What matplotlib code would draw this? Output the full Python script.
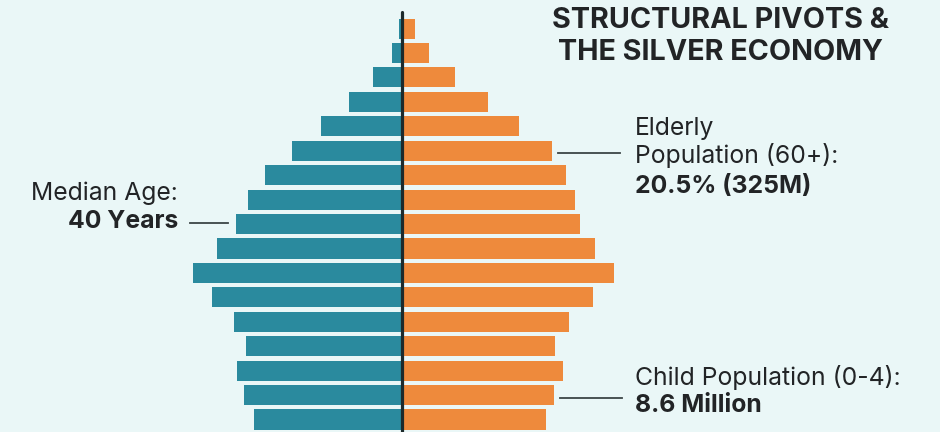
import matplotlib
matplotlib.use("Agg")
import matplotlib.pyplot as plt
import numpy as np

# ---- data (bottom = youngest) ----
age_groups = ["0-4", "5-9", "10-14", "15-19", "20-24", "25-29", "30-34", "35-39",
              "40-44", "45-49", "50-54", "55-59", "60-64", "65-69", "70-74", "75-79", "80+"]
male = [74, 79, 82.5, 78, 84, 95, 104.5, 92.5, 83, 77, 68.5, 55, 40.5, 26.5, 14.5, 5, 1.5]
female = [72, 76, 80.5, 76.5, 83.5, 95.5, 106, 96.5, 89, 86.5, 82, 75, 58.5, 43, 26.5, 13.5, 6.5]

title_lines = ["STRUCTURAL PIVOTS &", "THE SILVER ECONOMY"]
median_label = ["Median Age:", "40 Years"]
elderly_label = ["Elderly", "Population (60+):", "20.5% (325M)"]
child_label = ["Child Population (0-4):", "8.6 Million"]

# ---- style ----
W, H = 940, 432
bg = "#eaf7f7"
teal = "#2a8a9e"
orange = "#ee8a3c"
dark = "#222426"
line_c = "#3c4546"

plt.rcParams["font.family"] = ["Inter", "DejaVu Sans"]

fig = plt.figure(figsize=(W / 100, H / 100), dpi=100)
fig.patch.set_facecolor(bg)
ax = fig.add_axes([0, 0, 1, 1])
ax.set_facecolor(bg)

y = np.arange(len(age_groups))
ax.barh(y, [-m for m in male], height=0.82, color=teal, edgecolor="none", zorder=2)
ax.barh(y, female, height=0.82, color=orange, edgecolor="none", zorder=2)

# pixel -> data helpers (layout only)
pitch = 24.43
def px_x(px):
    return (px - 402) / 2.0
def px_y(py):
    return (419.5 - py) / pitch

ax.set_xlim(px_x(0), px_x(W))
ax.set_ylim(px_y(H), px_y(0))
ax.axis("off")

# centre line
ax.plot([0, 0], [px_y(H + 5), px_y(12)], color="#1c2a2b", lw=2.3, zorder=4,
        solid_capstyle="round")

# leader lines
ax.plot([px_x(190), px_x(228)], [px_y(223), px_y(223)], color=line_c, lw=1.3, zorder=3)
ax.plot([px_x(558), px_x(620)], [px_y(153), px_y(153)], color=line_c, lw=1.3, zorder=3)
ax.plot([px_x(560), px_x(622)], [px_y(398), px_y(398)], color=line_c, lw=1.3, zorder=3)

def ftext(px, py, s, **kw):
    fig.text(px / W, 1 - py / H, s, va="center", color=dark, **kw)

body = 17.8
# title
ftext(721, 20, title_lines[0], ha="center", fontsize=20.7, fontweight="bold")
ftext(721, 52, title_lines[1], ha="center", fontsize=20.7, fontweight="bold")

# median
ftext(178, 193, median_label[0], ha="right", fontsize=body)
ftext(178, 221, median_label[1], ha="right", fontsize=body, fontweight="bold")

# elderly
ftext(635, 128, elderly_label[0], ha="left", fontsize=body)
ftext(635, 156, elderly_label[1], ha="left", fontsize=body)
ftext(635, 187, elderly_label[2], ha="left", fontsize=body, fontweight="bold")

# child
ftext(635, 378, child_label[0], ha="left", fontsize=body)
ftext(635, 406, child_label[1], ha="left", fontsize=body, fontweight="bold")

fig.savefig("out.png", dpi=100, facecolor=bg)
